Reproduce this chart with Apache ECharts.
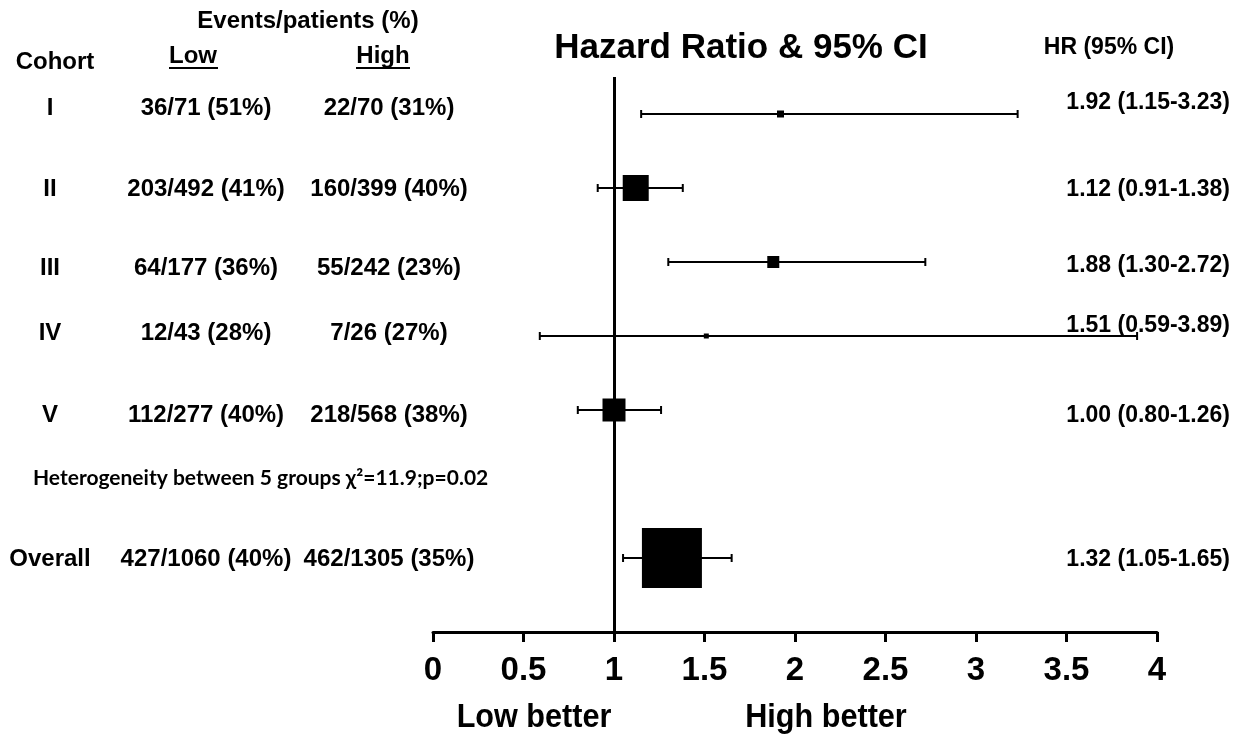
<!DOCTYPE html>
<html>
<head>
<meta charset="utf-8">
<script src="https://cdn.jsdelivr.net/npm/echarts@6/dist/echarts.min.js"></script>
<style>
  html, body { margin: 0; padding: 0; background: #fff; }
  #chart { width: 1242px; height: 737px; }
</style>
</head>
<body>
<div id="chart"></div>
<script>
// forest plot data
const cohorts = ["I", "II", "III", "IV", "V", "Overall"];
const lowEvents = ["36/71 (51%)", "203/492 (41%)", "64/177 (36%)", "12/43 (28%)", "112/277 (40%)", "427/1060 (40%)"];
const highEvents = ["22/70 (31%)", "160/399 (40%)", "55/242 (23%)", "7/26 (27%)", "218/568 (38%)", "462/1305 (35%)"];
const hr = [1.92, 1.12, 1.88, 1.51, 1.0, 1.32];
const ciLow = [1.15, 0.91, 1.3, 0.59, 0.8, 1.05];
const ciHigh = [3.23, 1.38, 2.72, 3.89, 1.26, 1.65];
const boxWeight = [7, 26, 12, 5, 23, 60];

const ARIAL = "'Liberation Sans', Arial, sans-serif";

// row 5 is the heterogeneity line, overall goes below it
const rowOf = (i) => (i < 5 ? i : i + 1);
const hrText = (i) => hr[i].toFixed(2) + " (" + ciLow[i].toFixed(2) + "-" + ciHigh[i].toFixed(2) + ")";

const yAx = { type: "value", min: -0.5, max: 7, inverse: true, show: false };

// text column drawn at data coords, dx/dys are small nudges in px
function textColumn(name, gridIdx, col, texts, font, align, dx, dys) {
  return {
    name: name,
    type: "custom",
    xAxisIndex: gridIdx,
    yAxisIndex: gridIdx,
    silent: true,
    renderItem: (params, api) => {
      const i = params.dataIndex;
      const p = api.coord([api.value(0), api.value(1)]);
      return {
        type: "text",
        x: p[0] + dx,
        y: p[1] + (dys ? dys[i] : 0),
        style: { text: texts[i], font: font, fill: "#000", align: align, verticalAlign: "middle" },
      };
    },
    data: texts.map((t, i) => [col, rowOf(i)]),
    z: 5,
  };
}

const rowNudge = [-6, 1, 6, -3, 5, 1];

let chart = echarts.init(document.getElementById("chart"));

chart.setOption({
  animation: false,
  title: {
    text: "Hazard Ratio & 95% CI",
    left: 736,
    top: 26,
    textAlign: "center",
    textStyle: { fontFamily: ARIAL, fontWeight: "bold", fontSize: 35, color: "#000" },
  },
  grid: [
    { left: 433, right: 85, top: 77, bottom: 105 },
    { left: 23, width: 366, top: 77, bottom: 105 },
  ],
  xAxis: [
    {
      gridIndex: 0,
      type: "value",
      min: 0,
      max: 4,
      interval: 0.5,
      splitLine: { show: false },
      axisLine: { show: true, onZero: false, lineStyle: { color: "#000", width: 3 } },
      axisTick: { show: true, length: 10, lineStyle: { color: "#000", width: 3 } },
      axisLabel: { color: "#000", fontFamily: ARIAL, fontWeight: "bold", fontSize: 33, margin: 22 },
    },
    {
      gridIndex: 1,
      type: "category",
      data: ["cohort", "low", "high"],
      boundaryGap: false,
      show: false,
    },
  ],
  yAxis: [Object.assign({ gridIndex: 0 }, yAx), Object.assign({ gridIndex: 1 }, yAx)],
  series: [
    {
      name: "ci",
      type: "custom",
      xAxisIndex: 0,
      yAxisIndex: 0,
      renderItem: (params, api) => {
        const a = api.coord([api.value(0), api.value(2)]);
        const b = api.coord([api.value(1), api.value(2)]);
        const st = { stroke: "#000", lineWidth: 2 };
        return {
          type: "group",
          children: [
            { type: "line", shape: { x1: a[0], y1: a[1], x2: b[0], y2: b[1] }, style: st },
            { type: "line", shape: { x1: a[0], y1: a[1] - 4, x2: a[0], y2: a[1] + 4 }, style: st },
            { type: "line", shape: { x1: b[0], y1: b[1] - 4, x2: b[0], y2: b[1] + 4 }, style: st },
          ],
        };
      },
      data: hr.map((v, i) => [ciLow[i], ciHigh[i], rowOf(i)]),
      z: 2,
    },
    {
      name: "hr",
      type: "scatter",
      xAxisIndex: 0,
      yAxisIndex: 0,
      symbol: "rect",
      symbolSize: (v, p) => boxWeight[p.dataIndex],
      itemStyle: { color: "#000", opacity: 1 },
      data: hr.map((v, i) => [v, rowOf(i)]),
      z: 3,
      markLine: {
        silent: true,
        symbol: "none",
        label: { show: false },
        lineStyle: { color: "#000", width: 3, type: "solid" },
        data: [{ xAxis: 1 }],
      },
    },
    Object.assign(
      textColumn("hrText", 0, 4, hr.map((v, i) => hrText(i)), "bold 23px " + ARIAL, "right", 73, [-11, 2, 4, -10, 6, 2]),
      { clip: false }
    ),
    textColumn("cohort", 1, "cohort", cohorts, "bold 24px " + ARIAL, "center", 27, rowNudge),
    textColumn("low", 1, "low", lowEvents, "bold 24px " + ARIAL, "center", 0, rowNudge),
    textColumn("high", 1, "high", highEvents, "bold 24px " + ARIAL, "center", 0, rowNudge),
  ],
  graphic: [
    { type: "text", x: 308, y: 21, style: { text: "Events/patients (%)", font: "bold 24px " + ARIAL, fill: "#000", align: "center", verticalAlign: "middle" } },
    { type: "text", x: 55, y: 62, style: { text: "Cohort", font: "bold 24px " + ARIAL, fill: "#000", align: "center", verticalAlign: "middle" } },
    { type: "text", x: 193, y: 56, style: { text: "Low", font: "bold 24px " + ARIAL, fill: "#000", align: "center", verticalAlign: "middle" } },
    { type: "line", shape: { x1: 169, y1: 68, x2: 218, y2: 68 }, style: { stroke: "#000", lineWidth: 2 } },
    { type: "text", x: 383, y: 56, style: { text: "High", font: "bold 24px " + ARIAL, fill: "#000", align: "center", verticalAlign: "middle" } },
    { type: "line", shape: { x1: 356, y1: 68, x2: 410, y2: 68 }, style: { stroke: "#000", lineWidth: 2 } },
    { type: "text", x: 1109, y: 48, style: { text: "HR (95% CI)", font: "bold 23px " + ARIAL, fill: "#000", align: "center", verticalAlign: "middle" } },
    { type: "text", x: 33, y: 478, style: { text: "Heterogeneity between 5 groups \u03c7\u00b2=11.9;p=0.02", font: "bold 21px Lato, 'Open Sans', sans-serif", fill: "#000", align: "left", verticalAlign: "middle" } },
    { type: "text", x: 534, y: 718, scaleX: 0.9, style: { text: "Low better", font: "bold 34px " + ARIAL, fill: "#000", align: "center", verticalAlign: "middle" } },
    { type: "text", x: 826, y: 718, scaleX: 0.9, style: { text: "High better", font: "bold 34px " + ARIAL, fill: "#000", align: "center", verticalAlign: "middle" } },
  ],
});
</script>
</body>
</html>
